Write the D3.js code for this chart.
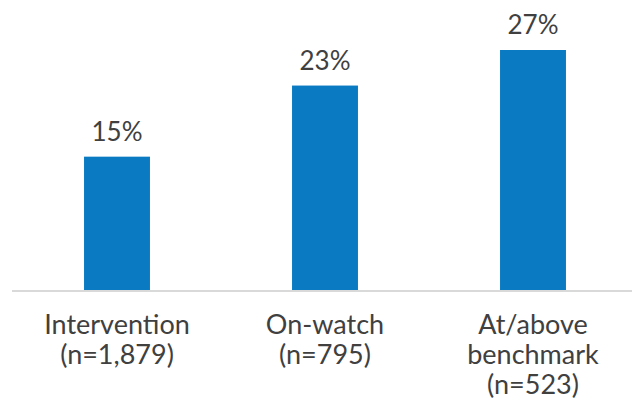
<!DOCTYPE html>
<html>
<head>
<meta charset="utf-8">
<script src="https://cdn.jsdelivr.net/npm/d3@7/dist/d3.min.js"></script>
<style>
  html, body { margin: 0; padding: 0; background: #fff; }
  svg text { font-family: Lato, "Open Sans", sans-serif; fill: #404040; }
</style>
</head>
<body>
<svg id="chart" width="642" height="403"></svg>
<script>
// Share of students by benchmark group
const categories = [
  ["Intervention", "(n=1,879)"],
  ["On-watch", "(n=795)"],
  ["At/above", "benchmark", "(n=523)"]
];
const values = [15, 23, 27];

const svg = d3.select("#chart");
const baseline = 290;

const x = d3.scaleBand()
  .domain(d3.range(categories.length))
  .range([13, 637])
  .paddingInner(0.683)
  .paddingOuter(0.3415);

const y = d3.scaleLinear()
  .domain([0, 27])
  .range([baseline, 50]);

// bars
svg.append("g")
  .selectAll("rect")
  .data(values)
  .join("rect")
  .attr("x", (d, i) => x(i))
  .attr("y", d => y(d))
  .attr("width", x.bandwidth())
  .attr("height", d => baseline - y(d))
  .attr("fill", "#0a7bc2");

// baseline axis
svg.append("line")
  .attr("x1", 12).attr("x2", 632)
  .attr("y1", baseline + 1).attr("y2", baseline + 1)
  .attr("stroke", "#d9d9d9")
  .attr("stroke-width", 2);

// value labels
svg.append("g")
  .selectAll("text")
  .data(values)
  .join("text")
  .attr("x", (d, i) => x(i) + x.bandwidth() / 2)
  .attr("y", d => y(d) - 16)
  .attr("text-anchor", "middle")
  .attr("font-size", 26)
  .text(d => d + "%");

// category labels
const catG = svg.append("g")
  .selectAll("text")
  .data(categories)
  .join("text")
  .attr("x", (d, i) => x(i) + x.bandwidth() / 2)
  .attr("y", 334)
  .attr("text-anchor", "middle")
  .attr("font-size", 27);

catG.selectAll("tspan")
  .data((d, i) => d.map(line => ({ line, i })))
  .join("tspan")
  .attr("x", d => x(d.i) + x.bandwidth() / 2)
  .attr("dy", (d, j) => j === 0 ? 0 : 30)
  .text(d => d.line);
</script>
</body>
</html>
